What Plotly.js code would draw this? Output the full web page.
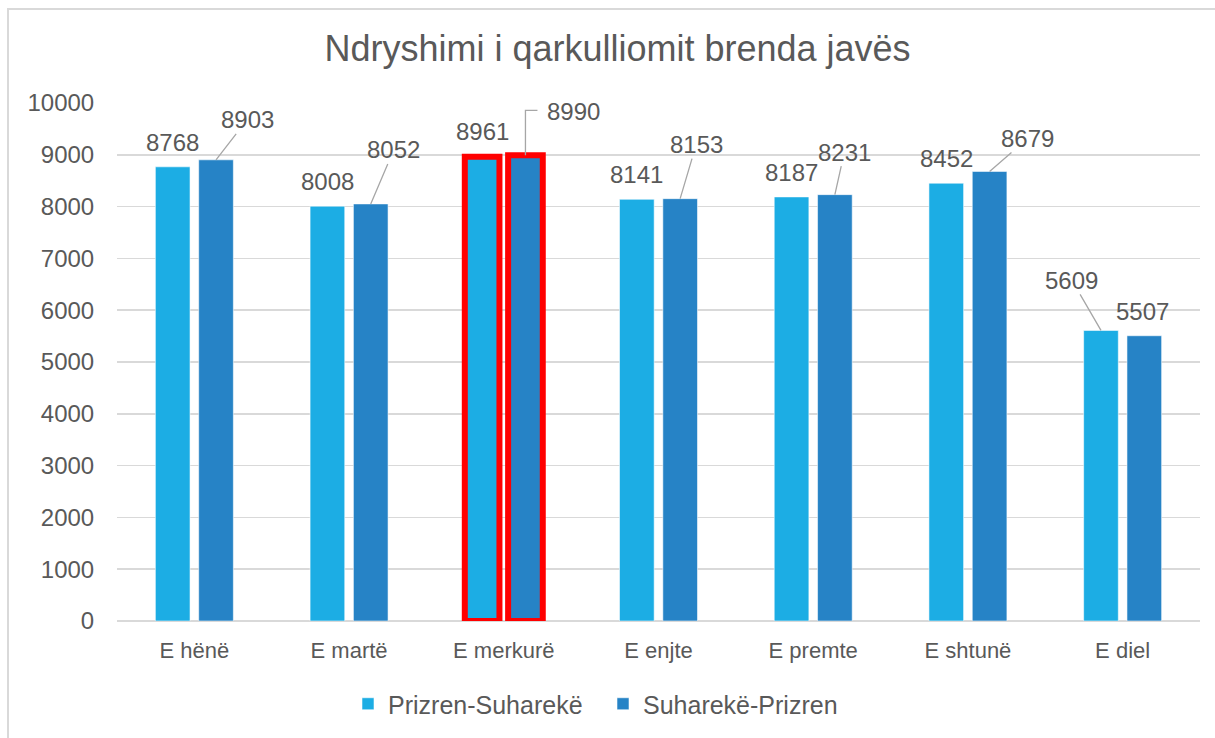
<!DOCTYPE html>
<html>
<head>
<meta charset="utf-8">
<script src="https://cdn.plot.ly/plotly-3.0.1.min.js"></script>
<style>
  html, body { margin: 0; padding: 0; background: #fff; }
  #chart { width: 1215px; height: 738px; }
  #frame { position: absolute; left: 7px; top: 8px; width: 1300px; height: 800px;
           border-left: 2px solid #d9d9d9; border-top: 2px solid #d9d9d9; pointer-events: none; }
</style>
</head>
<body>
<div id="chart"></div>
<div id="frame"></div>
<script>
// ---- data ----
const days = ["E hënë", "E martë", "E merkurë", "E enjte", "E premte", "E shtunë", "E diel"];
const seriesNames = ["Prizren-Suharekë", "Suharekë-Prizren"];
const prizrenSuhareke = [8768, 8008, 8961, 8141, 8187, 8452, 5609];
const suharekePrizren = [8903, 8052, 8990, 8153, 8231, 8679, 5507];
const yTicks = [0, 1000, 2000, 3000, 4000, 5000, 6000, 7000, 8000, 9000, 10000];
const highlightedDay = "E merkurë";

// ---- styling / label placement (pixels, text centre relative to bar top; y up) ----
const colors = ["#1CADE4", "#2683C6"];
const textColor = "#595959";
const font = "Liberation Sans, Arial, sans-serif";
// [dx, dy, leader]  leader: 0 none, 1 straight, 2 elbow
const labelPlacement = [
  [[0, 24.5, 0], [0, 24.5, 0], [0, 25, 0], [0, 24.5, 0], [0, 24.5, 0], [0, 24.5, 0], [-29, 50, 1]],
  [[31, 40, 1], [23, 54, 1], [48.5, 44, 2], [16, 54, 1], [9.5, 42.5, 1], [38, 33, 1], [-2, 24.5, 0]]
];

const bargap = 0.44, bargroupgap = 0.2;
const slot = (1 - bargap) / 2;
const offsets = [-slot / 2, slot / 2];

const hi = days.indexOf(highlightedDay);
function lineStyle(n) {
  return {
    color: days.map((d, i) => i === hi ? "#FF0000" : "rgba(255,255,255,0.55)"),
    width: days.map((d, i) => i === hi ? 6 : 1)
  };
}

const values = [prizrenSuhareke, suharekePrizren];
const traces = values.map((vals, s) => ({
  type: "bar",
  name: seriesNames[s],
  x: days,
  y: vals,
  marker: { color: colors[s], line: lineStyle(s) },
  hoverinfo: "x+y+name"
}));

const annotations = [];
const shapes = [];
values.forEach((vals, s) => {
  vals.forEach((v, i) => {
    const [dx, dy, leader] = labelPlacement[s][i];
    const base = {
      xref: "x", yref: "y",
      x: i + offsets[s], y: v,
      text: String(v),
      font: { family: font, size: 24, color: textColor }
    };
    if (leader === 1) {
      annotations.push(Object.assign(base, {
        showarrow: true, ax: dx, ay: -dy, axref: "pixel", ayref: "pixel",
        arrowhead: 0, arrowwidth: 1.3, arrowcolor: "#a6a6a6", standoff: 0, borderpad: 0
      }));
    } else {
      annotations.push(Object.assign(base, {
        showarrow: false, xshift: dx, yshift: dy, xanchor: "center", yanchor: "middle"
      }));
      if (leader === 2) {
        shapes.push({
          type: "path", xref: "x", yref: "y",
          xsizemode: "pixel", ysizemode: "pixel",
          xanchor: i + offsets[s], yanchor: v,
          path: "M0,0 L0,45 L12,45",
          line: { color: "#a6a6a6", width: 1.3 }
        });
      }
    }
  });
});

const layout = {
  width: 1215, height: 738,
  margin: { l: 117, r: 15, t: 103, b: 117 },
  paper_bgcolor: "#ffffff",
  plot_bgcolor: "#ffffff",
  barmode: "group",
  bargap: bargap,
  bargroupgap: bargroupgap,
  title: {
    text: "Ndryshimi i qarkulliomit brenda javës",
    font: { family: font, size: 36, color: textColor },
    xref: "container", yref: "container",
    x: 617.5 / 1215, y: 1 - 48 / 738, xanchor: "center", yanchor: "middle"
  },
  xaxis: {
    type: "category",
    tickfont: { family: font, size: 22, color: textColor },
    showgrid: false, zeroline: false, showline: false,
    ticks: "outside", ticklen: 10, tickcolor: "rgba(0,0,0,0)"
  },
  yaxis: {
    range: [0, 10000],
    tickvals: yTicks,
    ticktext: yTicks.map(String),
    tickfont: { family: font, size: 24, color: textColor },
    showgrid: true, gridcolor: "#d9d9d9", gridwidth: 1.5,
    zeroline: true, zerolinecolor: "#d9d9d9", zerolinewidth: 1.5,
    showline: false,
    ticks: "outside", ticklen: 17, tickcolor: "rgba(0,0,0,0)"
  },
  legend: {
    orientation: "h",
    xref: "container", yref: "container",
    x: 348 / 1215, y: 1 - 704 / 738, xanchor: "left", yanchor: "middle",
    font: { family: font, size: 25, color: textColor },
    itemwidth: 30,
    entrywidth: 210
  },
  annotations: annotations,
  shapes: shapes
};

Plotly.newPlot("chart", traces, layout, { displayModeBar: false, staticPlot: true });
</script>
</body>
</html>
